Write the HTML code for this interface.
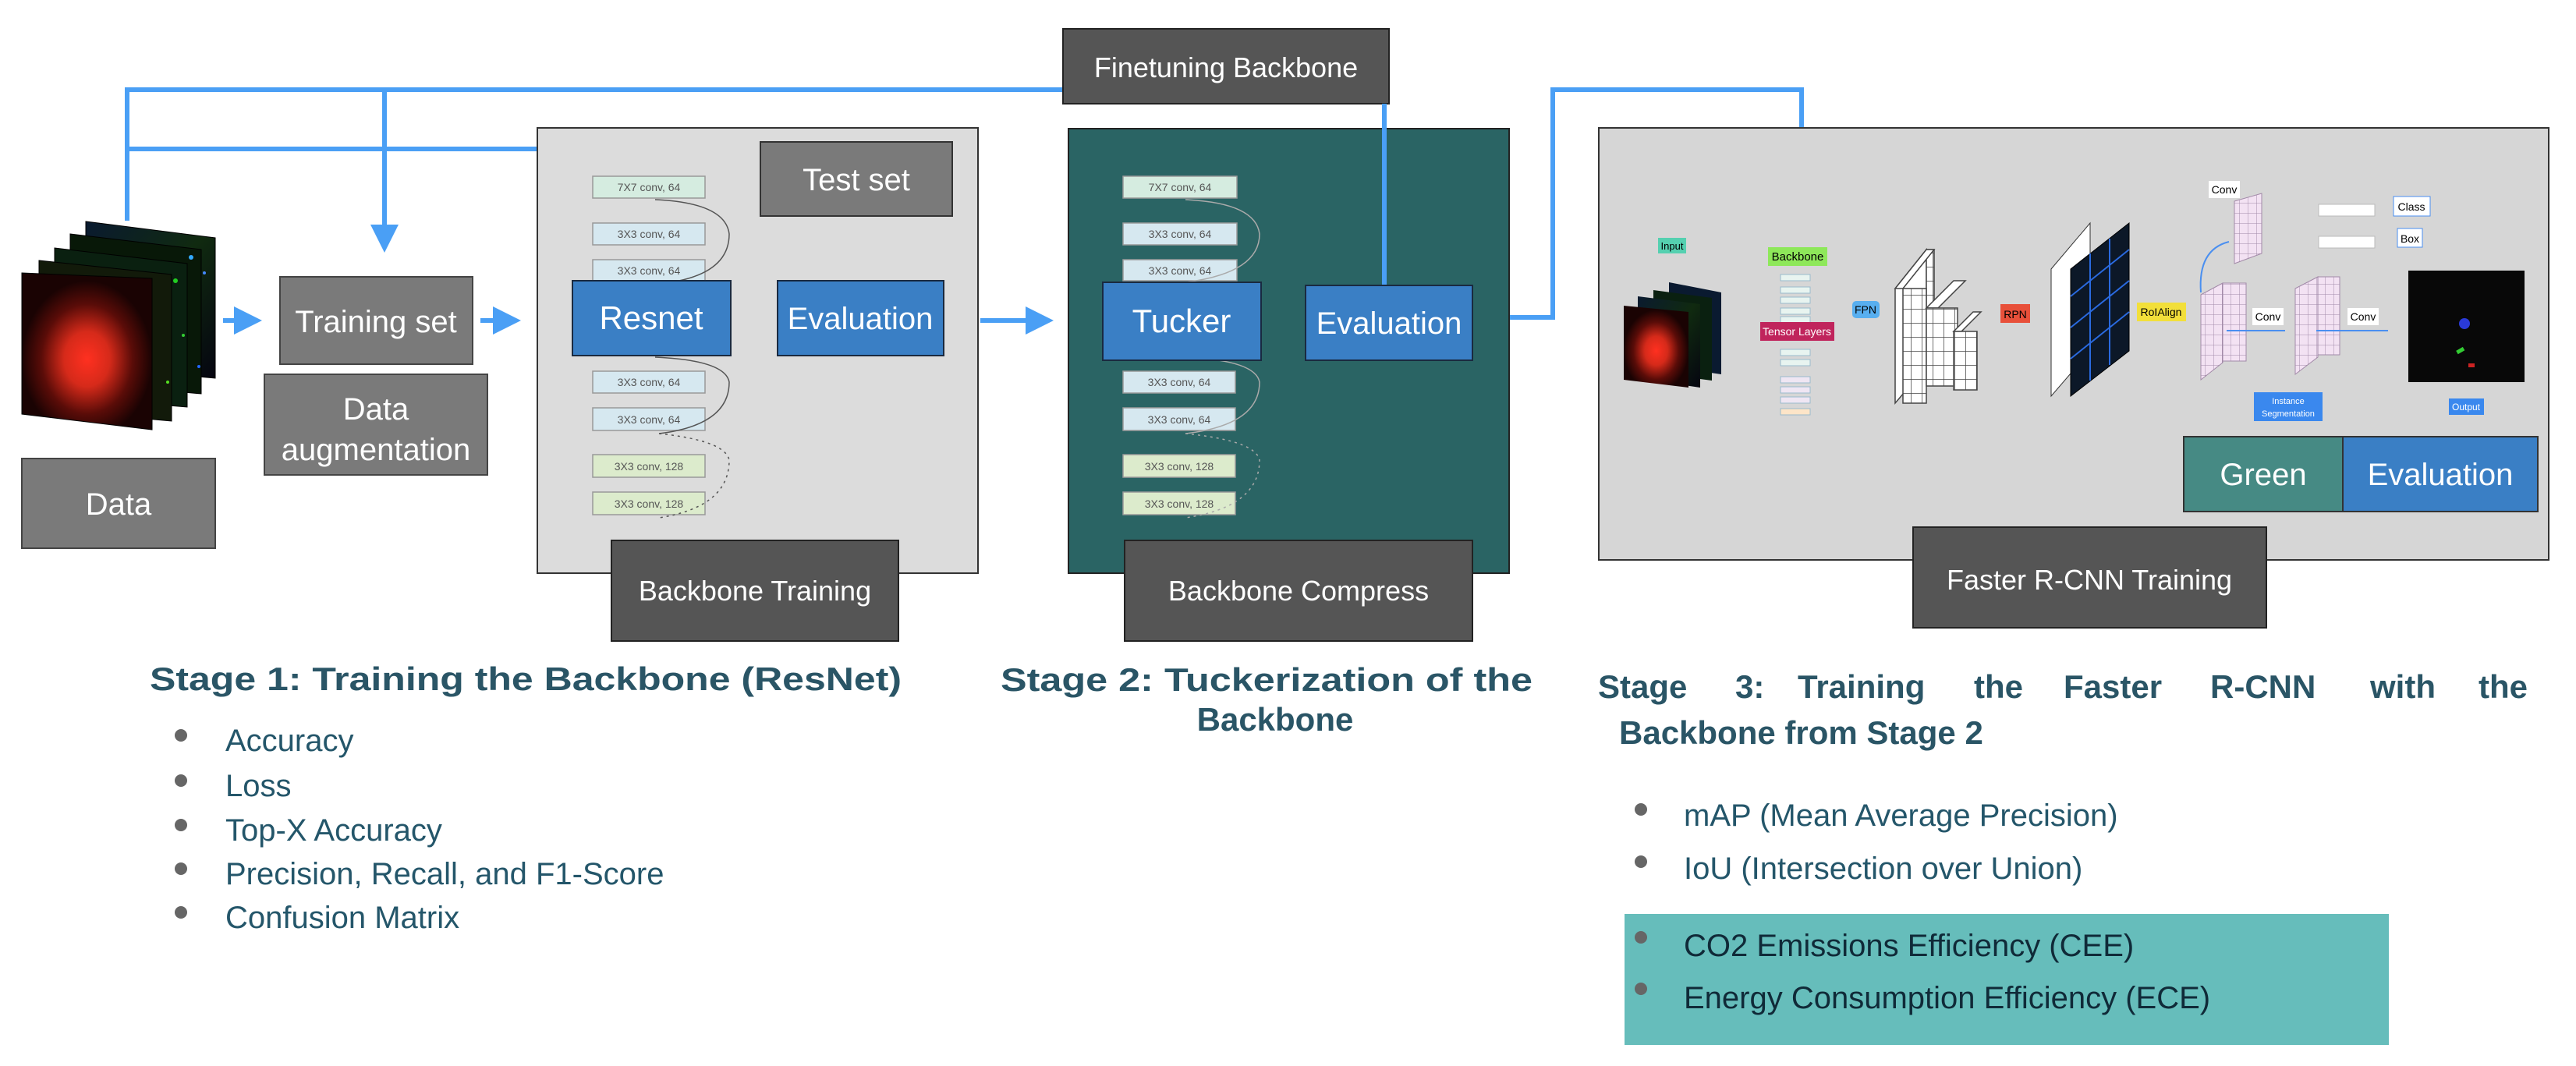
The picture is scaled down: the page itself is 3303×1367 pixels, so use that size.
<!DOCTYPE html>
<html><head><meta charset="utf-8"><style>
html,body{margin:0;padding:0;background:#fff;}
svg{display:block;font-family:"Liberation Sans",Arial,sans-serif;}
</style></head><body>
<svg width="3303" height="1367" viewBox="0 0 3303 1367" xmlns="http://www.w3.org/2000/svg">
<defs>
<marker id="ah" markerWidth="6" markerHeight="6" refX="5" refY="3" orient="auto" markerUnits="strokeWidth">
<path d="M0,0 L6,3 L0,6 z" fill="#4a9ff5"/></marker>
<radialGradient id="gal" cx="0.5" cy="0.55" r="0.5">
<stop offset="0" stop-color="#ff3020"/><stop offset="0.35" stop-color="#d62a1a"/><stop offset="0.7" stop-color="#5a0c08"/><stop offset="1" stop-color="#1a0303"/></radialGradient>
<linearGradient id="back" x1="0" y1="0" x2="1" y2="1"><stop offset="0" stop-color="#0a1a30"/><stop offset="0.5" stop-color="#102a10"/><stop offset="1" stop-color="#050510"/></linearGradient>
<pattern id="grid" width="14" height="18" patternUnits="userSpaceOnUse"><rect width="14" height="18" fill="#fff"/><path d="M0,0H14M0,0V18" stroke="#444" stroke-width="1.5"/></pattern>
<pattern id="pgrid" width="11" height="13" patternUnits="userSpaceOnUse"><rect width="11" height="13" fill="#f3e2f3"/><path d="M0,0H11M0,0V13" stroke="#a28aa8" stroke-width="1"/></pattern>
</defs>

<g stroke="#4a9ff5" stroke-width="6" fill="none">
<polyline points="163,283 163,115 1363,115"/>
<line x1="493" y1="115" x2="493" y2="318" marker-end="url(#ah)"/>
<line x1="163" y1="191" x2="942" y2="191" marker-end="url(#ah)"/>
<line x1="1098" y1="287" x2="1098" y2="328" marker-end="url(#ah)"/>
<line x1="286" y1="411" x2="330" y2="411" marker-end="url(#ah)"/>
<line x1="616" y1="411" x2="662" y2="411" marker-end="url(#ah)"/>
<line x1="942" y1="411" x2="968" y2="411" marker-end="url(#ah)"/>
<line x1="1257" y1="411" x2="1345" y2="411" marker-end="url(#ah)"/>
<line x1="1620" y1="411" x2="1648" y2="411" marker-end="url(#ah)"/>
<polyline points="1888,407 1991,407 1991,115 2310,115 2310,252" marker-end="url(#ah)"/>
</g>

<g>
<polygon points="110,284 276,305 276,485 110,470" fill="url(#back)" stroke="#000"/>
<polygon points="90,300 258,320 258,505 90,490" fill="#081808" stroke="#000"/>
<polygon points="70,318 240,338 240,522 70,508" fill="#0a2010" stroke="#000"/>
<polygon points="50,334 220,352 220,540 50,525" fill="#121a0a" stroke="#000"/>
<polygon points="28,350 195,357 195,551 28,531" fill="url(#gal)" stroke="#000"/>
<circle cx="245" cy="330" r="3" fill="#3af"/><circle cx="262" cy="350" r="2" fill="#48f"/>
<circle cx="225" cy="360" r="3" fill="#2c2"/><circle cx="235" cy="430" r="2" fill="#3c3"/>
<circle cx="255" cy="470" r="2" fill="#26f"/><circle cx="215" cy="490" r="2" fill="#5d2"/>
</g>

<rect x="359" y="355" width="247" height="112" fill="#7a7a7a" stroke="#444" stroke-width="2"/>
<text x="482" y="426" font-size="40" fill="#fff" text-anchor="middle">Training set</text>
<rect x="339" y="480" width="286" height="129" fill="#7a7a7a" stroke="#444" stroke-width="2"/>
<text x="482" y="538" font-size="40" fill="#fff" text-anchor="middle">Data</text>
<text x="482" y="590" font-size="40" fill="#fff" text-anchor="middle">augmentation</text>
<rect x="28" y="588" width="248" height="115" fill="#7a7a7a" stroke="#444" stroke-width="2"/>
<text x="152" y="660" font-size="40" fill="#fff" text-anchor="middle">Data</text>

<rect x="689" y="164" width="565" height="571" fill="#dcdcdc" stroke="#333" stroke-width="2"/>
<rect x="975" y="182" width="246" height="95" fill="#7a7a7a" stroke="#333" stroke-width="2"/>
<text x="1098" y="244" font-size="40" fill="#fff" text-anchor="middle">Test set</text>
<g stroke="#999" stroke-width="1.5">
<rect x="760" y="226" width="144" height="28" fill="#d5ece0"/>
<rect x="760" y="286" width="144" height="28" fill="#d6e8f0"/>
<rect x="760" y="333" width="144" height="27" fill="#d6e8f0"/>
<rect x="760" y="476" width="144" height="28" fill="#d6e8f0"/>
<rect x="760" y="523" width="144" height="29" fill="#d6e8f0"/>
<rect x="760" y="583" width="144" height="29" fill="#dcebcc"/>
<rect x="760" y="631" width="144" height="29" fill="#dcebcc"/>
</g>
<g font-size="14" fill="#555" text-anchor="middle">
<text x="832" y="245">7X7 conv, 64</text><text x="832" y="305">3X3 conv, 64</text><text x="832" y="352">3X3 conv, 64</text>
<text x="832" y="495">3X3 conv, 64</text><text x="832" y="543">3X3 conv, 64</text><text x="832" y="603">3X3 conv, 128</text><text x="832" y="651">3X3 conv, 128</text>
</g>
<g fill="none" stroke="#555" stroke-width="1.5">
<path d="M840,256 Q930,260 935,300 Q935,350 860,362"/>
<path d="M840,458 Q930,462 935,490 Q935,545 845,556"/>
<path d="M845,556 Q930,565 935,590 Q935,650 845,664" stroke-dasharray="3,5"/>
</g>
<rect x="734" y="360" width="203" height="96" fill="#3a7fc5" stroke="#1a2a40" stroke-width="2"/>
<text x="835" y="422" font-size="42" fill="#fff" text-anchor="middle">Resnet</text>
<rect x="997" y="360" width="213" height="96" fill="#3a7fc5" stroke="#1a2a40" stroke-width="2"/>
<text x="1103" y="422" font-size="40" fill="#fff" text-anchor="middle">Evaluation</text>
<rect x="784" y="693" width="368" height="129" fill="#555" stroke="#222" stroke-width="2"/>
<text x="968" y="770" font-size="36" fill="#fff" text-anchor="middle">Backbone Training</text>

<rect x="1363" y="37" width="418" height="96" fill="#555" stroke="#222" stroke-width="2"/>
<text x="1572" y="99" font-size="36" fill="#fff" text-anchor="middle">Finetuning Backbone</text>

<rect x="1370" y="165" width="565" height="570" fill="#2a6464" stroke="#222" stroke-width="2"/>
<line x1="1775" y1="133" x2="1775" y2="366" stroke="#4a9ff5" stroke-width="6"/>
<g stroke="#999" stroke-width="1.5">
<rect x="1440" y="226" width="146" height="28" fill="#d5ece0"/>
<rect x="1440" y="286" width="146" height="28" fill="#d6e8f0"/>
<rect x="1440" y="333" width="146" height="27" fill="#d6e8f0"/>
<rect x="1440" y="476" width="144" height="28" fill="#d6e8f0"/>
<rect x="1440" y="523" width="144" height="29" fill="#d6e8f0"/>
<rect x="1440" y="583" width="144" height="29" fill="#dcebcc"/>
<rect x="1440" y="631" width="144" height="29" fill="#dcebcc"/>
</g>
<g font-size="14" fill="#555" text-anchor="middle">
<text x="1513" y="245">7X7 conv, 64</text><text x="1513" y="305">3X3 conv, 64</text><text x="1513" y="352">3X3 conv, 64</text>
<text x="1512" y="495">3X3 conv, 64</text><text x="1512" y="543">3X3 conv, 64</text><text x="1512" y="603">3X3 conv, 128</text><text x="1512" y="651">3X3 conv, 128</text>
</g>
<g fill="none" stroke="#aaa" stroke-width="1.5">
<path d="M1520,256 Q1610,260 1615,300 Q1615,350 1520,362"/>
<path d="M1520,458 Q1610,462 1615,490 Q1615,545 1520,556"/>
<path d="M1520,556 Q1610,565 1615,590 Q1615,650 1520,664" stroke-dasharray="3,5"/>
</g>
<rect x="1414" y="362" width="203" height="100" fill="#3a7fc5" stroke="#1a2a40" stroke-width="2"/>
<text x="1515" y="426" font-size="42" fill="#fff" text-anchor="middle">Tucker</text>
<rect x="1674" y="366" width="214" height="96" fill="#3a7fc5" stroke="#1a2a40" stroke-width="2"/>
<text x="1781" y="428" font-size="40" fill="#fff" text-anchor="middle">Evaluation</text>
<rect x="1442" y="693" width="446" height="129" fill="#555" stroke="#222" stroke-width="2"/>
<text x="1665" y="770" font-size="36" fill="#fff" text-anchor="middle">Backbone Compress</text>

<rect x="2050" y="164" width="1218" height="554" fill="#d6d6d6" stroke="#333" stroke-width="2"/>
<g>
<polygon points="2140,362 2207,375 2207,480 2140,470" fill="#0a1a30"/>
<polygon points="2120,372 2195,382 2195,488 2120,478" fill="#0a2010"/>
<polygon points="2100,380 2180,390 2180,497 2100,485" fill="url(#back)"/>
<polygon points="2082,392 2165,400 2165,497 2082,487" fill="url(#gal)"/>
</g>
<rect x="2126" y="305" width="36" height="20" fill="#55d0b0"/><text x="2144" y="320" font-size="13" text-anchor="middle">Input</text>
<rect x="2267" y="317" width="76" height="24" fill="#8ee85a"/><text x="2305" y="334" font-size="15" text-anchor="middle">Backbone</text>
<g fill="#e8f4f0" stroke="#9bc" stroke-width="1">
<rect x="2283" y="352" width="38" height="8"/><rect x="2283" y="368" width="38" height="8"/><rect x="2283" y="381" width="38" height="8"/><rect x="2283" y="395" width="38" height="8"/><rect x="2283" y="406" width="38" height="8"/>
<rect x="2283" y="448" width="38" height="8"/><rect x="2283" y="461" width="38" height="8"/>
<rect x="2283" y="483" width="38" height="8" fill="#efe6f3"/><rect x="2283" y="496" width="38" height="8" fill="#efe6f3"/><rect x="2283" y="509" width="38" height="8" fill="#efe6f3"/><rect x="2283" y="524" width="38" height="8" fill="#fde5c8"/>
</g>
<rect x="2257" y="413" width="95" height="24" fill="#c0245c"/><text x="2304" y="430" font-size="14" fill="#fff" text-anchor="middle">Tensor Layers</text>
<rect x="2375" y="386" width="35" height="22" rx="5" fill="#58aff0"/><text x="2392" y="402" font-size="14" text-anchor="middle">FPN</text>
<g stroke="#444" stroke-width="1.5">
<polygon points="2430,370 2470,320 2470,470 2430,517" fill="#fff"/>
<rect x="2470" y="320" width="10" height="150" fill="url(#grid)"/>
<polygon points="2430,370 2470,320 2480,320 2440,370" fill="#fff"/>
<rect x="2440" y="370" width="30" height="147" fill="url(#grid)"/>
<polygon points="2470,395 2505,360 2520,360 2485,395" fill="#fff"/>
<rect x="2470" y="395" width="40" height="100" fill="url(#grid)"/>
<polygon points="2505,425 2530,400 2540,400 2515,425" fill="#fff"/>
<rect x="2505" y="425" width="30" height="75" fill="url(#grid)"/>
</g>
<rect x="2565" y="390" width="38" height="24" fill="#e8503a"/><text x="2584" y="408" font-size="14" text-anchor="middle">RPN</text>
<polygon points="2630,345 2680,286 2680,450 2630,508" fill="#fff" stroke="#333"/>
<polygon points="2655,345 2730,286 2730,450 2655,508" fill="#0c1828" stroke="#000"/>
<g stroke="#2a6adf" stroke-width="2"><line x1="2655" y1="380" x2="2730" y2="320"/><line x1="2655" y1="420" x2="2730" y2="360"/><line x1="2655" y1="460" x2="2730" y2="400"/><line x1="2680" y1="325" x2="2680" y2="488"/><line x1="2705" y1="306" x2="2705" y2="468"/></g>
<rect x="2740" y="388" width="63" height="24" fill="#f2df3a"/><text x="2771" y="405" font-size="14" text-anchor="middle">RoIAlign</text>
<g stroke="#a28aa8" stroke-width="1">
<polygon points="2822,378 2850,363 2850,465 2822,487" fill="url(#pgrid)"/>
<polygon points="2943,370 2972,355 2972,458 2943,480" fill="url(#pgrid)"/>
<polygon points="2865,258 2900,248 2900,325 2865,338" fill="url(#pgrid)"/>
<rect x="2850" y="363" width="30" height="100" fill="url(#pgrid)"/>
<rect x="2972" y="355" width="28" height="100" fill="url(#pgrid)"/>
</g>
<g stroke="#4a8ff0" stroke-width="2" fill="none"><line x1="2855" y1="424" x2="2930" y2="424"/><line x1="2970" y1="424" x2="3062" y2="424"/><path d="M2822,375 Q2818,320 2858,310"/></g>
<g font-size="14" text-anchor="middle"><rect x="2832" y="232" width="40" height="22" fill="#fff"/><text x="2852" y="248">Conv</text>
<rect x="2888" y="395" width="40" height="22" fill="#fff"/><text x="2908" y="411">Conv</text>
<rect x="3010" y="395" width="40" height="22" fill="#fff"/><text x="3030" y="411">Conv</text>
<rect x="3069" y="252" width="47" height="25" fill="#fff" stroke="#4a8ff0"/><text x="3092" y="270">Class</text>
<rect x="3074" y="293" width="32" height="24" fill="#fff" stroke="#4a8ff0"/><text x="3090" y="311">Box</text></g>
<rect x="2973" y="262" width="72" height="15" fill="#fff" stroke="#bbb"/><rect x="2973" y="303" width="72" height="15" fill="#fff" stroke="#bbb"/>
<rect x="3088" y="347" width="149" height="143" fill="#080808"/>
<circle cx="3160" cy="415" r="7" fill="#2a3ad8"/><rect x="3150" y="447" width="10" height="5" fill="#3c3" transform="rotate(-30 3155 450)"/><rect x="3165" y="466" width="8" height="5" fill="#c22"/>
<rect x="2890" y="503" width="88" height="37" fill="#3a88ee"/><text x="2934" y="518" font-size="11" fill="#fff" text-anchor="middle">Instance</text><text x="2934" y="534" font-size="11" fill="#fff" text-anchor="middle">Segmentation</text>
<rect x="3140" y="511" width="45" height="21" fill="#3a88ee"/><text x="3162" y="526" font-size="12" fill="#fff" text-anchor="middle">Output</text>
<rect x="2800" y="560" width="204" height="96" fill="#468a84" stroke="#333" stroke-width="2"/>
<text x="2902" y="622" font-size="40" fill="#fff" text-anchor="middle">Green</text>
<rect x="3004" y="560" width="250" height="96" fill="#3a7fc5" stroke="#333" stroke-width="2"/>
<text x="3129" y="622" font-size="40" fill="#fff" text-anchor="middle">Evaluation</text>
<rect x="2453" y="676" width="453" height="129" fill="#555" stroke="#222" stroke-width="2"/>
<text x="2679" y="756" font-size="36" fill="#fff" text-anchor="middle">Faster R-CNN Training</text>

<g font-weight="bold" font-size="42" fill="#2a5566">
<text x="192" y="885" textLength="964" lengthAdjust="spacingAndGlyphs">Stage 1: Training the Backbone (ResNet)</text>
<text x="1283" y="886" textLength="682" lengthAdjust="spacingAndGlyphs">Stage 2: Tuckerization of the</text>
<text x="1635" y="937" text-anchor="middle">Backbone</text>
<text x="2049" y="895">Stage</text><text x="2225" y="895">3:</text><text x="2305" y="895">Training</text><text x="2531" y="895">the</text>
<text x="2646" y="895">Faster</text><text x="2834" y="895">R-CNN</text><text x="3039" y="895">with</text><text x="3178" y="895">the</text>
<text x="2076" y="954">Backbone from Stage 2</text>
</g>
<g font-size="40" fill="#24566a">
<text x="289" y="963">Accuracy</text><text x="289" y="1021">Loss</text><text x="289" y="1078">Top-X Accuracy</text>
<text x="289" y="1134">Precision, Recall, and F1-Score</text><text x="289" y="1190">Confusion Matrix</text>
<text x="2159" y="1059">mAP (Mean Average Precision)</text><text x="2159" y="1127">IoU (Intersection over Union)</text>
</g>
<g fill="#666"><circle cx="232" cy="943" r="8"/><circle cx="232" cy="1001" r="8"/><circle cx="232" cy="1058" r="8"/><circle cx="232" cy="1114" r="8"/><circle cx="232" cy="1170" r="8"/>
<circle cx="2104" cy="1038" r="8"/><circle cx="2104" cy="1105" r="8"/></g>
<rect x="2083" y="1172" width="980" height="168" fill="#66bdbb"/>
<g fill="#666"><circle cx="2104" cy="1202" r="8"/><circle cx="2104" cy="1268" r="8"/></g>
<g font-size="40" fill="#102a38">
<text x="2159" y="1226">CO2 Emissions Efficiency (CEE)</text><text x="2159" y="1293">Energy Consumption Efficiency (ECE)</text>
</g>
</svg>
</body></html>
